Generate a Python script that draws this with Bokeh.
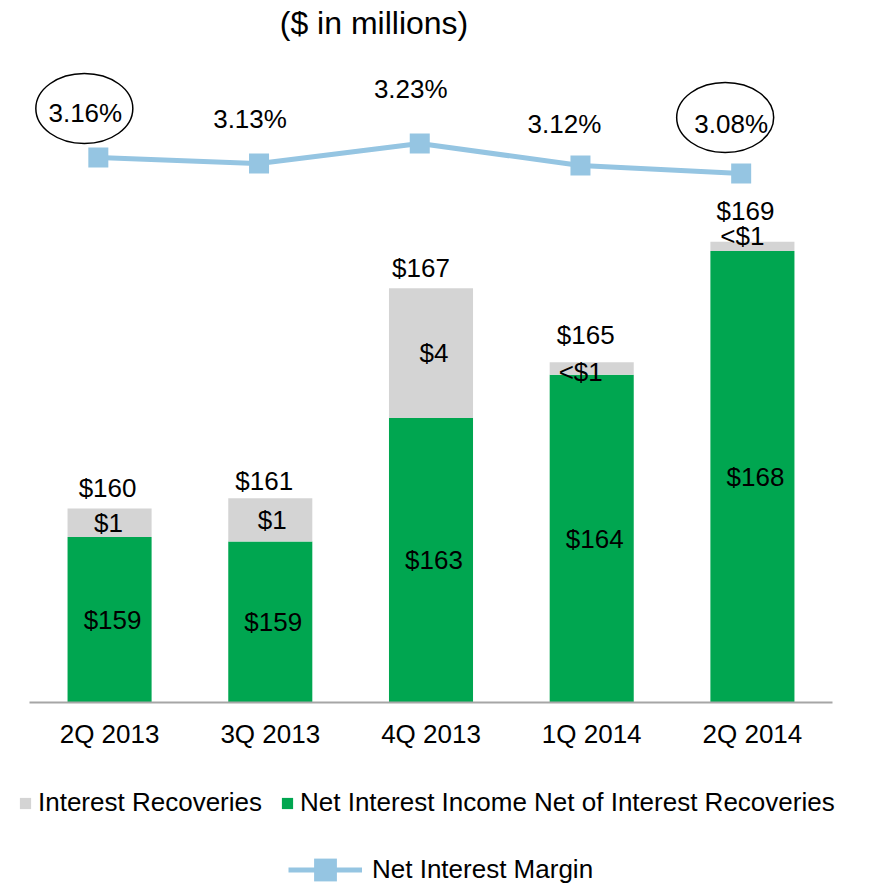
from bokeh.plotting import figure
from bokeh.models import (ColumnDataSource, Range1d, FactorRange, Legend, LegendItem, Label)
from bokeh.transform import dodge
from bokeh.core.properties import value
from bokeh.embed import file_html
from bokeh.resources import INLINE

# ---------------- data ----------------
quarters = ["2Q 2013", "3Q 2013", "4Q 2013", "1Q 2014", "2Q 2014"]
nii_net = [159.05, 158.9, 162.9, 164.3, 168.3]      # Net Interest Income Net of Interest Recoveries
recoveries = [0.92, 1.4, 4.2, 0.4, 0.3]            # Interest Recoveries
nim = [3.16, 3.13, 3.23, 3.12, 3.08]               # Net Interest Margin (%)
nii_labels = ["$159", "$159", "$163", "$164", "$168"]
rec_labels = ["$1", "$1", "$4", "<$1", "<$1"]
total_labels = ["$160", "$161", "$167", "$165", "$169"]
nim_labels = ["3.16%", "3.13%", "3.23%", "3.12%", "3.08%"]
circled = [True, False, False, False, True]

# ---------------- styles ----------------
GREEN = "#00A650"
GRAY = "#D4D4D4"
BLUE = "#95C5E2"
FONT = "Liberation Sans"
FS = "26px"

W, H = 870, 884
BORDER_R = 9
X_PAD = 0.1787                   # category padding at each end (category widths)
frame_w = W - BORDER_R
frame_h = H
BASE_PX = 702                    # pixel row of the category axis

bar_start, bar_ppu = 153.69, 30.9          # truncated value axis
nim_ref, nim_ref_px, nim_ppu = 3.08, 173, 200.0

y_lo = bar_start - (frame_h - BASE_PX) / bar_ppu
y_hi = y_lo + frame_h / bar_ppu
nim_lo = nim_ref - (frame_h - nim_ref_px) / nim_ppu
nim_hi = nim_lo + frame_h / nim_ppu
x_ppu = frame_w / (len(quarters) + 2 * X_PAD)

line_dx = -0.07
total_dx = [-2, -6, -10, -6, -7]
total_dy = [-20, -17, -20, -27, -31]
rec_dx = [-1, 2, 3, -11, -10]
rec_dy = [0, 0, 0, 4, -10]
nim_dx = [-13, -9, -9, -16, -10]
nim_dy = [-45, -45, -55, -42, -50]
ell_dx = [-14, 0, 0, 0, -16]
ell_dy = [-49, 0, 0, 0, -56]

totals = [a + b for a, b in zip(nii_net, recoveries)]
src = ColumnDataSource(dict(
    q=quarters, nii=nii_net, rec=recoveries, tot=totals, nim=nim,
    nii_lab=nii_labels, rec_lab=rec_labels, tot_lab=total_labels, nim_lab=nim_labels,
    nii_mid=[(bar_start + v) / 2 for v in nii_net],
    rec_mid=[a + b / 2 for a, b in zip(nii_net, recoveries)],
    total_dx=total_dx, total_dy=total_dy, rec_dx=rec_dx, rec_dy=rec_dy,
    nim_dx=nim_dx, nim_dy=nim_dy,
))

xr = FactorRange(*quarters, range_padding=X_PAD, range_padding_units="absolute")
p = figure(x_range=xr, y_range=Range1d(y_lo, y_hi),
           width=W, height=H, output_backend="svg", toolbar_location=None,
           x_axis_location="above", y_axis_location=None,
           min_border_left=0, min_border_right=BORDER_R,
           min_border_top=0, min_border_bottom=0)
p.extra_y_ranges = {"nim": Range1d(nim_lo, nim_hi)}
p.outline_line_color = None
p.xgrid.visible = False
p.ygrid.visible = False
p.background_fill_color = "white"
p.border_fill_color = "white"

nii_r = p.vbar(x="q", bottom=bar_start, top="nii", width=0.523, fill_color=GREEN,
               line_color=None, source=src)
rec_r = p.vbar(x="q", bottom="nii", top="tot", width=0.523, fill_color=GRAY,
               line_color=None, source=src)

xl = dodge("q", line_dx, range=p.x_range)
line_r = p.line(x=xl, y="nim", line_color=BLUE, line_width=5, y_range_name="nim", source=src)
mark_r = p.scatter(x=xl, y="nim", marker="square", size=20, fill_color=BLUE,
                   line_color=None, y_range_name="nim", source=src)

common = dict(text_font=value(FONT), text_font_size=FS, text_color="black",
              text_align="center", text_baseline="middle", source=src)
p.text(x=dodge("q", 0, range=p.x_range), y="nii_mid", text="nii_lab", x_offset=3, **common)
p.text(x="q", y="rec_mid", text="rec_lab", x_offset="rec_dx", y_offset="rec_dy", **common)
p.text(x="q", y="tot", text="tot_lab", x_offset="total_dx", y_offset="total_dy", **common)
p.text(x=xl, y="nim", text="nim_lab", x_offset="nim_dx", y_offset="nim_dy",
       y_range_name="nim", **common)

# ellipses around highlighted margins
for i, c in enumerate(circled):
    if not c:
        continue
    es = ColumnDataSource(dict(q=[quarters[i]], y=[nim[i] - ell_dy[i] / nim_ppu]))
    p.ellipse(x=dodge("q", line_dx + ell_dx[i] / x_ppu, range=p.x_range), y="y",
              width=97, height=70, width_units="screen", height_units="screen",
              fill_color=None, line_color="black", line_width=1.5,
              y_range_name="nim", source=es)

# category axis drawn at the bars' base, spanning the categories only
ax = p.xaxis[0]
ax.fixed_location = bar_start
ax.bounds = (0, len(quarters))
ax.axis_line_color = "#A6A6A6"
ax.axis_line_width = 2
ax.major_tick_line_color = None
ax.minor_tick_line_color = None
ax.major_tick_out = 0
ax.major_tick_in = 0
ax.major_label_standoff = -46
ax.major_label_text_font = FONT
ax.major_label_text_font_size = FS
ax.major_label_text_color = "black"

# title
p.add_layout(Label(x=373.5, y=frame_h - 22, x_units="screen", y_units="screen",
                   text="($ in millions)", text_align="center", text_baseline="middle",
                   text_font=FONT, text_font_size="32px", text_color="black"))

leg_style = dict(orientation="horizontal", padding=0, margin=0, border_line_color=None,
                 background_fill_alpha=0, label_text_font=FONT, label_text_font_size=FS,
                 label_text_color="black")
leg1 = Legend(items=[LegendItem(label="Interest Recoveries", renderers=[rec_r]),
                     LegendItem(label="Net Interest Income Net of Interest Recoveries",
                                renderers=[nii_r])],
              location=(18, 66), glyph_width=14, glyph_height=14, label_standoff=6,
              spacing=18, **leg_style)
leg2 = Legend(items=[LegendItem(label="Net Interest Margin", renderers=[line_r, mark_r])],
              location=(288, -14), glyph_width=74, glyph_height=57, label_standoff=10,
              **leg_style)
p.add_layout(leg1, "center")
p.add_layout(leg2, "center")

open("out.html", "w").write(file_html(p, INLINE))
